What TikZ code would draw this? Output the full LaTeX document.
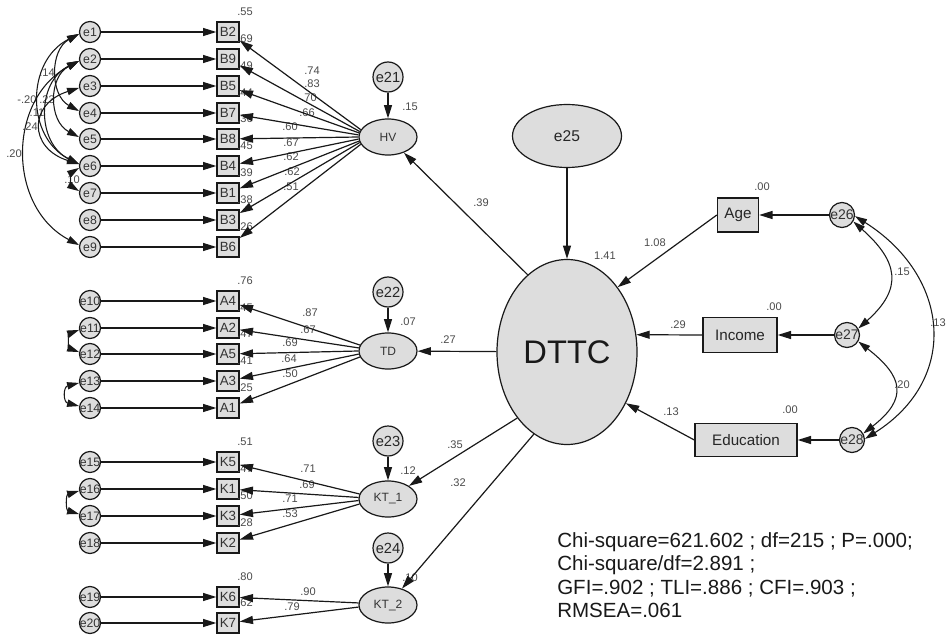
\documentclass[tikz,border=0pt]{standalone}
\usepackage{fontspec}
\setmainfont{Liberation Sans}
\usetikzlibrary{arrows.meta,shapes.geometric}
\definecolor{nodefill}{RGB}{221,221,221}
\definecolor{lblc}{RGB}{75,75,75}
\definecolor{edgec}{RGB}{25,25,25}
\newcommand{\zw}[1]{\makebox[0pt]{#1}}
\newcommand{\lcov}[4]{\draw[cov] (#1.190) .. controls +({-1.333*#3},{#4}) and +({-1.333*#3},{-#4}) .. (#2.170);}
\tikzset{
  lbl/.style={font=\fontsize{8.3}{9}\selectfont, text=lblc, inner sep=0pt},
  obsbox/.style={rectangle, draw=edgec, line width=1pt, fill=nodefill, inner sep=0pt, minimum width=16.5pt, minimum height=15pt, font=\fontsize{10}{10}\selectfont, text=black!80},
  errc/.style={circle, draw=edgec, line width=0.9pt, fill=nodefill, inner sep=0pt, minimum size=15.75pt, font=\fontsize{9.2}{9}\selectfont, text=black!80},
  derr/.style={circle, draw=edgec, line width=0.9pt, fill=nodefill, inner sep=0pt, minimum size=22.5pt, font=\fontsize{11}{11}\selectfont, text=black!85},
  xerr/.style={circle, draw=edgec, line width=0.9pt, fill=nodefill, inner sep=0pt, minimum size=18.75pt, font=\fontsize{10.5}{10}\selectfont, text=black!80},
  latent/.style={ellipse, draw=edgec, line width=0.9pt, fill=nodefill, inner sep=0pt, minimum width=43.5pt, minimum height=27pt, font=\fontsize{9}{9}\selectfont, text=black!80},
  xbox/.style={rectangle, draw=edgec, line width=1pt, fill=nodefill, inner sep=0pt, minimum height=25.5pt, font=\fontsize{11.4}{11}\selectfont, text=black!85},
  fittxt/.style={anchor=base west, inner sep=0pt, font=\fontsize{15.4}{17.5}\selectfont, text=black!90},
  arr/.style={draw=edgec, line width=0.9pt, -{Triangle[length=10pt,width=6pt]}},
  cov/.style={draw=edgec, line width=0.8pt, {Triangle[length=9pt,width=5.5pt]}-{Triangle[length=9pt,width=5.5pt]}},
}
\begin{document}
\begin{tikzpicture}[x=0.75pt,y=-0.75pt]
\useasboundingbox[fill=white] (0,0) rectangle (949,638);

% ---------- labels (drawn first, lines pass over them)
\foreach \x/\y/\t in {312/71/.74, 312/84/.83, 309/98/.70, 307/113/.66, 290/127/.60, 291/143/.67, 291/157/.62, 292/172/.62, 291/187/.51,
  310/313/.87, 308/330/.67, 290/343/.69, 289/359/.64, 290/374/.50,
  308/469/.71, 307/485/.69, 290/499/.71, 290/514/.53,
  308/592/.90, 292/607/.79,
  410/107/.15, 408/322/.07, 408/471/.12, 410/578/.10,
  605/256/1.41, 481/203/.39, 655/243/1.08, 678/325/.29, 671/412/.13,
  448/340/.27, 455/445/.35, 458/483/.32,
  762/187/.00, 774/307/.00, 790/410/.00,
  902/272/.15, 902/385/.20, 938/323/.13,
  47/73/.14, 27/100/-.20, 47/100/.23, 37/113/.11, 30/127/.24, 14/154/.20, 72/180/.10}
  {\node[lbl] at (\x,\y) {\t};}

% ---------- indicator rows
\foreach \i/\b/\y/\r in {1/B2/32/.55, 2/B9/59/.69, 3/B5/86/.49, 4/B7/113/.44, 5/B8/139/.36, 6/B4/166/.45, 7/B1/193/.39, 8/B3/220/.38, 9/B6/247/.26,
  10/A4/301/.76, 11/A2/328/.45, 12/A5/354/.47, 13/A3/381/.41, 14/A1/408/.25,
  15/K5/462/.51, 16/K1/489/.47, 17/K3/516/.50, 18/K2/543/.28,
  19/K6/597/.80, 20/K7/623/.62}
{
  \node[lbl] at (245,\y-20) {\r};
  \node[errc] (e\i) at (90,\y) {\zw{e\i}};
  \node[obsbox] (\b) at (228,\y) {\b};
}

% ---------- latent nodes
\node[latent] (HV) at (388,137) {HV};
\node[latent] (TD) at (388,351) {TD};
\node[latent] (KT1) at (388,499) {KT\_1};
\node[latent] (KT2) at (388,605) {KT\_2};
\node[derr] (e21) at (388,77) {e21};
\node[derr] (e22) at (388,292) {e22};
\node[derr] (e23) at (388,441) {e23};
\node[derr] (e24) at (388,548) {e24};

\node[ellipse, draw=edgec, line width=0.9pt, fill=nodefill, inner sep=0pt, minimum width=105pt, minimum height=138.75pt, font=\fontsize{24.5}{25}\selectfont, text=black!90] (DTTC) at (567,352) {DTTC};
\node[ellipse, draw=edgec, line width=0.9pt, fill=nodefill, inner sep=0pt, minimum width=81.75pt, minimum height=47.25pt, font=\fontsize{11.7}{12}\selectfont, text=black!85] (e25) at (567,136) {e25};

\node[xbox, minimum width=30.75pt] (Age) at (738,215) {Age};
\node[xbox, minimum width=55.5pt, minimum height=26.25pt] (Income) at (740,335) {Income};
\node[xbox, minimum width=76.5pt, minimum height=24.75pt] (Education) at (746,440) {Education};
\node[xerr] (e26) at (842,215) {\zw{e26}};
\node[xerr] (e27) at (847,335) {\zw{e27}};
\node[xerr] (e28) at (852,440) {\zw{e28}};

% ---------- error -> indicator and loadings
\foreach \i/\b/\a in {1/B2/165, 2/B9/169, 3/B5/172, 4/B7/176, 5/B8/180, 6/B4/184, 7/B1/188, 8/B3/191, 9/B6/195}
  {\draw[arr] (e\i) -- (\b); \draw[arr] (HV.\a) -- (\b);}
\foreach \i/\b/\a in {10/A4/168, 11/A2/174, 12/A5/180, 13/A3/186, 14/A1/192}
  {\draw[arr] (e\i) -- (\b); \draw[arr] (TD.\a) -- (\b);}
\foreach \i/\b/\a in {15/K5/170, 16/K1/177, 17/K3/183, 18/K2/190}
  {\draw[arr] (e\i) -- (\b); \draw[arr] (KT1.\a) -- (\b);}
\foreach \i/\b/\a in {19/K6/176, 20/K7/184}
  {\draw[arr] (e\i) -- (\b); \draw[arr] (KT2.\a) -- (\b);}

\draw[arr] (e21) -- (HV);
\draw[arr] (e22) -- (TD);
\draw[arr] (e23) -- (KT1);
\draw[arr] (e24) -- (KT2);

% ---------- structural paths
\draw[arr] (e25) -- (DTTC);
\draw[arr] (DTTC.117) -- (HV);
\draw[arr] (DTTC) -- (TD);
\draw[arr] (DTTC.233) -- (KT1);
\draw[arr] (DTTC.248) -- (KT2);
\draw[arr] (Age.west) -- (DTTC.52);
\draw[arr] (Income.west) -- (DTTC.14);
\draw[arr] (Education.west) -- (DTTC.-41);
\draw[arr] (e26) -- (Age);
\draw[arr] (e27) -- (Income);
\draw[arr] (e28) -- (Education);

% ---------- covariances (right)
\draw[cov] (e26.-30) .. controls +(45,40) and +(45,-40) .. (e27.30);
\draw[cov] (e27.-30) .. controls +(45,35) and +(45,-35) .. (e28.30);
\draw[cov] (e26.-5) .. controls +(95,60) and +(95,-60) .. (e28.5);

% ---------- covariances (left)
\lcov{e1}{e4}{22}{16}
\lcov{e1}{e6}{40}{27}
\lcov{e2}{e5}{23}{16}
\lcov{e2}{e6}{32}{21}
\lcov{e3}{e6}{38}{16}
\lcov{e2}{e9}{54}{38}
\lcov{e6}{e7}{6}{5}
\lcov{e11}{e12}{8}{4}
\lcov{e13}{e14}{12}{4}
\lcov{e16}{e17}{10}{4}

% ---------- fit indices
\node[fittxt] (fit1) at (557,547) {Chi-square=621.602 ; df=215 ; P=.000;};
\node[fittxt] (fit2) at (557,570) {Chi-square/df=2.891 ;};
\node[fittxt] (fit3) at (557,594) {GFI=.902 ; TLI=.886 ; CFI=.903 ;};
\node[fittxt] (fit4) at (557,617) {RMSEA=.061};
\end{tikzpicture}
\end{document}
